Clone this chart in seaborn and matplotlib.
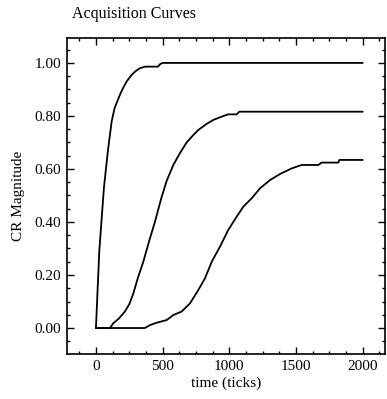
import matplotlib
matplotlib.use("Agg")
import matplotlib.pyplot as plt
from matplotlib.ticker import MultipleLocator, FormatStrFormatter
import seaborn as sns
import pandas as pd

sns.set_theme(style="ticks")
plt.rcParams['font.family'] = ['Liberation Serif', 'DejaVu Serif']

# Curve 1 (fast)
t1 = [0, 25, 60, 90, 118, 140, 180, 203, 230, 268, 300, 330, 370, 465, 480, 500, 2000]
v1 = [0.0, 0.29, 0.53, 0.67, 0.78, 0.83, 0.88, 0.905, 0.93, 0.955, 0.97, 0.98, 0.986, 0.986,
      0.995, 1.0, 1.0]

# Curve 2 (medium)
t2 = [0, 105, 130, 170, 217, 250, 280, 315, 355, 400, 442, 490, 530, 580, 630, 680,
      730, 767, 830, 880, 930, 990, 1055, 1075, 2000]
v2 = [0.0, 0.0, 0.018, 0.035, 0.062, 0.09, 0.13, 0.19, 0.25, 0.33, 0.40, 0.49, 0.555,
      0.615, 0.66, 0.70, 0.728, 0.747, 0.77, 0.785, 0.795, 0.806, 0.806, 0.816, 0.816]

# Curve 3 (slow)
t3 = [0, 367, 405, 455, 530, 580, 642, 705, 767, 817, 868, 930, 992, 1055, 1105, 1167,
      1230, 1305, 1380, 1467, 1542, 1667, 1692, 1817, 1825, 2000]
v3 = [0.0, 0.0, 0.011, 0.02, 0.03, 0.049, 0.062, 0.093, 0.143, 0.187, 0.25, 0.307, 0.37,
      0.42, 0.458, 0.489, 0.527, 0.558, 0.581, 0.602, 0.615, 0.615, 0.624, 0.624, 0.634, 0.634]

df = pd.concat([
    pd.DataFrame({"t": t1, "v": v1, "curve": "c1"}),
    pd.DataFrame({"t": t2, "v": v2, "curve": "c2"}),
    pd.DataFrame({"t": t3, "v": v3, "curve": "c3"}),
])

fig = plt.figure(figsize=(3.87, 3.99), dpi=100)
ax = fig.add_axes([67/387, 1 - 354/399, (385-67)/387, (354-38)/399])

sns.lineplot(data=df, x="t", y="v", units="curve", estimator=None, color="black",
             linewidth=1.3, sort=False, ax=ax, legend=False)

ax.set_xlim(-217, 2167)
ax.set_ylim(-0.098, 1.094)
ax.xaxis.set_major_locator(MultipleLocator(500))
ax.xaxis.set_minor_locator(MultipleLocator(125))
ax.yaxis.set_major_locator(MultipleLocator(0.2))
ax.yaxis.set_minor_locator(MultipleLocator(0.05))
ax.yaxis.set_major_formatter(FormatStrFormatter('%.2f'))

ax.tick_params(which='both', direction='in', top=True, right=True,
               labelsize=11, color='black', labelcolor='black', width=1)
ax.tick_params(which='major', length=5, pad=4)
ax.tick_params(which='minor', length=2.5)
for s in ax.spines.values():
    s.set_color('black')
    s.set_linewidth(1.2)

ax.set_xlabel("time (ticks)", fontsize=11, color='black', labelpad=3)
ax.set_ylabel("CR Magnitude", fontsize=11, color='black', labelpad=7)
fig.text(72/387, 1 - 14/399, "Acquisition Curves", fontsize=11.5, ha='left', va='center', color='black')

fig.savefig("out.png", dpi=100)
